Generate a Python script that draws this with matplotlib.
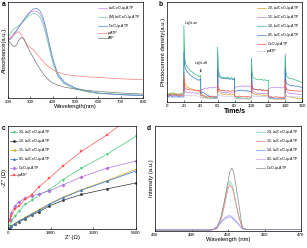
import matplotlib
matplotlib.use("Agg")
import matplotlib.pyplot as plt

plt.rcParams['font.family'] = ['Liberation Sans', 'DejaVu Sans']

# ---------------- Panel a: UV-vis absorbance ----------------
wl_a = [200, 210, 220, 230, 240, 250, 260, 270, 280, 290, 300, 310, 320, 330, 340,
        350, 360, 370, 380, 390, 400, 420, 450, 500, 550, 600, 700, 800]
abs_la = [1.77, 1.83, 1.90, 1.99, 2.07, 2.17, 2.27, 2.37, 2.45, 2.53, 2.58, 2.62, 2.63, 2.61,
          2.55, 2.43, 2.23, 1.97, 1.67, 1.37, 1.10, 0.70, 0.45, 0.28, 0.20, 0.14, 0.10, 0.07]
abs_ml = [1.80, 1.95, 2.05, 2.10, 2.15, 2.20, 2.25, 2.33, 2.40, 2.47, 2.51, 2.54, 2.55, 2.52,
          2.45, 2.33, 2.13, 1.87, 1.59, 1.31, 1.05, 0.67, 0.43, 0.27, 0.19, 0.14, 0.11, 0.09]
abs_ceo2 = [1.75, 1.77, 1.85, 1.95, 2.05, 2.15, 2.25, 2.35, 2.45, 2.55, 2.62, 2.68, 2.70, 2.70,
            2.65, 2.53, 2.33, 2.07, 1.77, 1.45, 1.17, 0.75, 0.48, 0.30, 0.21, 0.15, 0.10, 0.07]
abs_patp = [1.77, 1.80, 1.85, 1.93, 1.99, 2.00, 1.90, 1.77, 1.65, 1.57, 1.52, 1.47, 1.40, 1.32,
            1.23, 1.15, 1.07, 1.00, 0.95, 0.90, 0.85, 0.78, 0.72, 0.67, 0.64, 0.62, 0.58, 0.55]
abs_atp = [1.75, 1.67, 1.58, 1.55, 1.63, 1.77, 1.83, 1.80, 1.65, 1.50, 1.37, 1.25, 1.13, 1.01,
           0.90, 0.80, 0.70, 0.62, 0.55, 0.49, 0.45, 0.39, 0.33, 0.27, 0.23, 0.20, 0.15, 0.12]
labels_a = ["La/CeO$_2$/p-ATP", "(Ml)La/CeO$_2$/p-ATP", "CeO$_2$/p-ATP", "p-ATP", "ATP"]

# ---------------- Panel b: photocurrent ----------------
time_b = [0, 2, 4, 6, 8, 10, 12, 14, 16, 18, 20,
          20, 21, 22, 24, 26, 28, 30, 32, 34, 36, 38, 40,
          40, 42, 44, 46, 48, 50, 52, 54, 56, 58, 60,
          60, 61, 62, 64, 66, 68, 70, 72, 74, 76, 78, 80,
          80, 82, 84, 86, 88, 90, 92, 94, 96, 98, 100,
          100, 101, 102, 104, 106, 108, 110, 112, 114, 116, 118, 120,
          120, 122, 124, 126, 128, 130, 132, 134, 136, 138, 140,
          140, 141, 142, 144, 146, 148, 150, 152, 154, 156, 158, 160]
pc_20 = [0.25, 0.22, 0.27, 0.24, 0.28, 0.23, 0.26, 0.22, 0.25, 0.27, 0.25,
         0.9, 0.6, 0.5, 0.45, 0.42, 0.4, 0.38, 0.36, 0.35, 0.33, 0.32, 0.33,
         0.15, 0.13, 0.12, 0.14, 0.11, 0.12, 0.13, 0.11, 0.12, 0.1, 0.12,
         0.55, 0.32, 0.27, 0.25, 0.24, 0.23, 0.24, 0.22, 0.23, 0.21, 0.22, 0.22,
         0.12, 0.1, 0.11, 0.09, 0.1, 0.11, 0.09, 0.1, 0.08, 0.1, 0.09,
         0.5, 0.3, 0.25, 0.23, 0.22, 0.21, 0.22, 0.2, 0.21, 0.19, 0.2, 0.2,
         0.1, 0.09, 0.1, 0.08, 0.09, 0.1, 0.08, 0.09, 0.08, 0.09, 0.08,
         0.45, 0.22, 0.18, 0.16, 0.15, 0.14, 0.13, 0.12, 0.11, 0.1, 0.1, 0.1]
pc_15 = [0.2, 0.18, 0.22, 0.17, 0.2, 0.23, 0.18, 0.2, 0.17, 0.21, 0.2,
         0.6, 0.35, 0.3, 0.28, 0.3, 0.27, 0.29, 0.26, 0.28, 0.25, 0.27, 0.28,
         0.36, 0.38, 0.4, 0.42, 0.41, 0.43, 0.44, 0.42, 0.45, 0.44, 0.46,
         1.45, 0.5, 0.35, 0.3, 0.28, 0.3, 0.27, 0.29, 0.26, 0.28, 0.27, 0.28,
         0.4, 0.45, 0.47, 0.46, 0.48, 0.47, 0.49, 0.46, 0.48, 0.47, 0.45,
         1.3, 0.45, 0.32, 0.28, 0.26, 0.27, 0.25, 0.26, 0.24, 0.26, 0.25, 0.25,
         0.38, 0.42, 0.43, 0.44, 0.42, 0.45, 0.43, 0.44, 0.42, 0.43, 0.44,
         1.45, 0.45, 0.32, 0.27, 0.25, 0.26, 0.24, 0.25, 0.23, 0.24, 0.22, 0.23]
pc_10 = [0.22, 0.25, 0.2, 0.27, 0.22, 0.25, 0.19, 0.24, 0.21, 0.26, 0.22,
         2.3, 1.35, 1.15, 1.05, 1.0, 0.93, 0.9, 0.86, 0.82, 0.8, 0.76, 0.8,
         0.3, 0.2, 0.17, 0.14, 0.13, 0.12, 0.12, 0.11, 0.12, 0.1, 0.12,
         1.65, 0.98, 0.82, 0.76, 0.74, 0.73, 0.72, 0.75, 0.71, 0.73, 0.7, 0.72,
         0.2, 0.15, 0.12, 0.14, 0.11, 0.12, 0.1, 0.13, 0.11, 0.12, 0.12,
         1.3, 0.85, 0.74, 0.7, 0.68, 0.69, 0.66, 0.68, 0.65, 0.67, 0.64, 0.66,
         0.18, 0.13, 0.12, 0.11, 0.12, 0.1, 0.11, 0.1, 0.12, 0.1, 0.11,
         1.4, 0.9, 0.78, 0.72, 0.7, 0.7, 0.68, 0.66, 0.65, 0.63, 0.6, 0.58]
pc_05 = [0.18, 0.15, 0.2, 0.16, 0.14, 0.19, 0.15, 0.17, 0.14, 0.16, 0.15,
         1.5, 1.1, 1.0, 0.9, 0.85, 0.8, 0.76, 0.72, 0.7, 0.67, 0.65, 0.7,
         0.25, 0.3, 0.27, 0.24, 0.2, 0.18, 0.16, 0.15, 0.14, 0.13, 0.14,
         1.0, 0.78, 0.75, 0.72, 0.7, 0.72, 0.69, 0.71, 0.68, 0.7, 0.67, 0.69,
         0.3, 0.33, 0.35, 0.34, 0.36, 0.33, 0.35, 0.32, 0.34, 0.31, 0.32,
         0.9, 0.45, 0.4, 0.38, 0.37, 0.36, 0.38, 0.35, 0.36, 0.34, 0.35, 0.35,
         0.15, 0.12, 0.13, 0.11, 0.12, 0.1, 0.11, 0.12, 0.1, 0.11, 0.1,
         1.0, 0.6, 0.55, 0.52, 0.5, 0.48, 0.5, 0.47, 0.48, 0.46, 0.45, 0.44]
pc_ceo2 = [0.22, 0.2, 0.24, 0.21, 0.19, 0.23, 0.2, 0.22, 0.19, 0.21, 0.2,
           0.75, 0.45, 0.4, 0.38, 0.37, 0.36, 0.37, 0.35, 0.36, 0.34, 0.35, 0.35,
           0.2, 0.18, 0.19, 0.17, 0.18, 0.16, 0.17, 0.18, 0.16, 0.17, 0.16,
           0.5, 0.38, 0.36, 0.35, 0.34, 0.35, 0.33, 0.34, 0.32, 0.33, 0.34, 0.33,
           0.18, 0.16, 0.17, 0.18, 0.16, 0.17, 0.15, 0.16, 0.17, 0.15, 0.16,
           0.6, 0.42, 0.39, 0.38, 0.37, 0.36, 0.37, 0.35, 0.36, 0.34, 0.35, 0.35,
           0.17, 0.15, 0.16, 0.14, 0.15, 0.16, 0.14, 0.15, 0.13, 0.15, 0.14,
           0.65, 0.42, 0.38, 0.36, 0.35, 0.34, 0.35, 0.33, 0.34, 0.32, 0.33, 0.33]
pc_patp = [0.15, 0.14, 0.16, 0.13, 0.15, 0.14, 0.16, 0.13, 0.15, 0.14, 0.15,
           0.3, 0.22, 0.2, 0.19, 0.2, 0.18, 0.19, 0.18, 0.19, 0.17, 0.18, 0.18,
           0.13, 0.12, 0.13, 0.11, 0.12, 0.13, 0.11, 0.12, 0.11, 0.12, 0.11,
           0.28, 0.2, 0.19, 0.18, 0.19, 0.17, 0.18, 0.17, 0.18, 0.16, 0.17, 0.17,
           0.11, 0.12, 0.1, 0.11, 0.12, 0.1, 0.11, 0.1, 0.11, 0.1, 0.11,
           0.25, 0.19, 0.18, 0.17, 0.18, 0.16, 0.17, 0.16, 0.17, 0.16, 0.16, 0.16,
           0.1, 0.11, 0.09, 0.1, 0.11, 0.09, 0.1, 0.09, 0.1, 0.09, 0.1,
           0.26, 0.18, 0.17, 0.16, 0.17, 0.15, 0.16, 0.15, 0.16, 0.15, 0.15, 0.15]
labels_b = ["2.0-La/CeO$_2$/p-ATP", "1.5-La/CeO$_2$/p-ATP", "1.0-La/CeO$_2$/p-ATP",
            "0.5-La/CeO$_2$/p-ATP", "CeO$_2$/p-ATP", "p-ATP"]

# ---------------- Panel c: Nyquist ----------------
zre = [71, 142, 284, 469, 710, 995, 1322, 1748, 2316, 3098, 4164, 5400]
zim_20 = [142, 355, 568, 781, 1065, 1235, 1463, 1704, 2130, 2627, 3223, 4004]
zim_10 = [57, 128, 213, 312, 440, 596, 753, 994, 1235, 1491, 1732, 1988]
zim_15 = [71, 142, 241, 355, 497, 667, 852, 1093, 1377, 1704, 2087, 2584]
zim_05 = [57, 128, 227, 341, 469, 639, 809, 1065, 1349, 1676, 2059, 2513]
zim_ceo2 = [426, 710, 994, 1179, 1321, 1420, 1519, 1650, 1900, 2250, 2627, 2939]
zre_patp = [71, 142, 284, 469, 710, 995, 1322, 1748, 2316, 3098, 4164, 5000]
zim_patp = [355, 568, 852, 1000, 1278, 1490, 1830, 2200, 2720, 3350, 4060, 4700]
labels_c = ["2.0-La/CeO$_2$/p-ATP", "1.0-La/CeO$_2$/p-ATP", "1.5-La/CeO$_2$/p-ATP",
            "0.5-La/CeO$_2$/p-ATP", "CeO$_2$/p-ATP", "p-ATP"]

# ---------------- Panel d: PL ----------------
wl_d = [430, 440, 445, 446, 447, 448, 449, 450, 450.5, 451, 451.5, 452, 453, 453.5, 454, 455, 460, 470]
pl_20 = [3, 3, 3, 4, 9, 35, 85, 140, 150, 142, 125, 95, 45, 25, 10, 5, 5, 5]
pl_15 = [3, 3, 3, 4, 7, 30, 75, 128, 140, 133, 118, 90, 40, 22, 8, 5, 5, 5]
pl_10 = [3, 3, 3, 5, 12, 25, 36, 42, 43, 40, 36, 30, 18, 12, 6, 5, 5, 5]
pl_05 = [3, 3, 3, 5, 13, 27, 39, 46, 47, 44, 40, 33, 20, 13, 7, 5, 5, 5]
pl_ceo2 = [3, 3, 3, 4, 12, 40, 90, 150, 180, 190, 180, 150, 80, 40, 8, 5, 5, 5]
labels_d = ["2.0-La/CeO$_2$/p-ATP", "1.5-La/CeO$_2$/p-ATP", "1.0-La/CeO$_2$/p-ATP",
            "0.5-La/CeO$_2$/p-ATP", "CeO$_2$/p-ATP"]

W, H = 307, 248
fig = plt.figure(figsize=(W / 100, H / 100), dpi=100)

def box(l, t, r, b):
    return [l / W, 1 - b / H, (r - l) / W, (b - t) / H]

TICK = 3.2
LAB = 4.2
LEG = 2.5
LW = 0.5

def style(ax):
    ax.tick_params(direction='in', length=1.5, width=0.4, labelsize=TICK, pad=1.2)
    ax.tick_params(axis='y', left=False, labelleft=False)
    for s in ax.spines.values():
        s.set_linewidth(0.5)

# Panel a
ax = fig.add_axes(box(8, 2, 143, 98))
cols_a = ['#cc88ee', '#66cc99', '#4a86d0', '#ff7b7b', '#777777']
for y, c, lab in zip([abs_la, abs_ml, abs_ceo2, abs_patp, abs_atp], cols_a, labels_a):
    ax.plot(wl_a, y, color=c, lw=LW, label=lab)
ax.set_xlim(200, 800)
ax.set_ylim(0, 2.9)
ax.set_xticks([200, 300, 400, 500, 600, 700, 800])
style(ax)
ax.set_xlabel("Wavelength(nm)", fontsize=LAB, labelpad=0.5)
ax.set_ylabel("Absorbance(a.u.)", fontsize=LAB, labelpad=1)
ax.legend(loc='upper right', fontsize=LEG, frameon=False, handlelength=2.5,
          borderaxespad=0.3, labelspacing=0.25, handletextpad=0.4)

# Panel b
ax = fig.add_axes(box(167, 2, 302, 102))
cols_b = ['#d9a520', '#c080f0', '#33bb77', '#3377cc', '#ff5050', '#c4c4ee']
for y, c, lab in zip([pc_20, pc_15, pc_10, pc_05, pc_ceo2, pc_patp], cols_b, labels_b):
    ax.plot(time_b, y, color=c, lw=LW, label=lab)
ax.set_xlim(0, 160)
ax.set_ylim(0, 3.0)
ax.set_xticks([0, 20, 40, 60, 80, 100, 120, 140, 160])
style(ax)
ax.set_xlabel("Time/s", fontsize=5, fontweight='bold', labelpad=0.3)
ax.set_ylabel("Photocurrent density(a.u.)", fontsize=LAB, labelpad=1)
ax.text(21, 2.33, "Light on", fontsize=2.4)
ax.text(33, 1.13, "Light off", fontsize=2.4)
ax.annotate("", xy=(40, 0.8), xytext=(40, 1.08),
            arrowprops=dict(arrowstyle='->', lw=0.4, color='#333333', mutation_scale=3))
ax.legend(loc='upper right', fontsize=LEG, frameon=False, handlelength=2.5,
          borderaxespad=0.3, labelspacing=0.25, handletextpad=0.4)

# Panel c
ax = fig.add_axes(box(8, 126, 136, 229))
specs_c = [(zre, zim_20, '#44cc77', 'v'), (zre, zim_10, '#333333', 'o'),
           (zre, zim_15, '#d9a520', '<'), (zre, zim_05, '#3377cc', '^'),
           (zre, zim_ceo2, '#b070e0', 'D'), (zre_patp, zim_patp, '#ff5555', 's')]
for (xs, ys, c, m), lab in zip(specs_c, labels_c):
    ax.plot(xs, ys, color=c, lw=0.5, marker=m, ms=1.8, markeredgewidth=0.2, label=lab)
ax.set_xlim(0, 5400)
ax.set_ylim(0, 4450)
ax.set_xticks([0, 1800, 3600, 5400])
style(ax)
ax.set_xlabel("Z' (\u03a9)", fontsize=LAB, labelpad=0.5)
ax.set_ylabel("-Z'' (\u03a9)", fontsize=LAB, labelpad=1)
ax.legend(loc='upper left', fontsize=LEG, frameon=False, handlelength=1.8,
          borderaxespad=0.3, labelspacing=0.25, handletextpad=0.4)

# Panel d
ax = fig.add_axes(box(155, 126, 301, 231))
cols_d = ['#66cc99', '#ff7b7b', '#6699ee', '#cc99ff', '#888888']
for y, c, lab in zip([pl_20, pl_15, pl_10, pl_05, pl_ceo2], cols_d, labels_d):
    ax.plot(wl_d, y, color=c, lw=LW, label=lab)
ax.set_xlim(430, 470)
ax.set_ylim(0, 318)
ax.set_xticks([430, 440, 450, 460, 470])
style(ax)
ax.set_xlabel("Wavelength (nm)", fontsize=LAB, labelpad=0.3)
ax.set_ylabel("Intensity (a.u.)", fontsize=LAB, labelpad=1)
ax.legend(loc='upper right', fontsize=LEG, frameon=False, handlelength=2.5,
          borderaxespad=0.3, labelspacing=0.25, handletextpad=0.4)

# Panel letters
for x, y, t in [(2, 1, 'a'), (159, 1, 'b'), (2, 125, 'c'), (147, 125, 'd')]:
    fig.text(x / W, 1 - y / H, t, fontsize=4.8, fontweight='bold', va='top', ha='left')

fig.savefig("out.png", dpi=100)
